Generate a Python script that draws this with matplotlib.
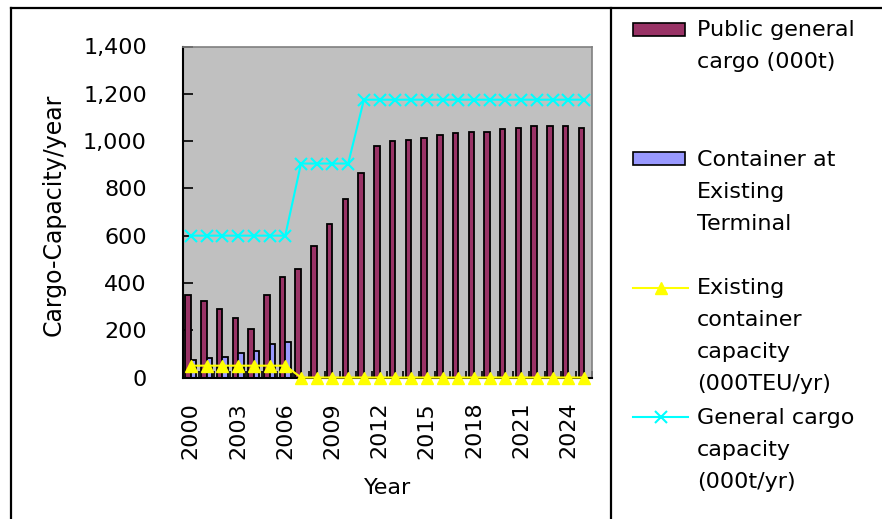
import numpy as np
import matplotlib
matplotlib.use("Agg")
import matplotlib.pyplot as plt
from matplotlib.patches import Rectangle
from matplotlib.lines import Line2D

# ---- DATA ---- #
years = list(range(2000, 2026))
general_cargo = [350, 325, 290, 250, 205, 350, 425, 460, 555, 650, 755, 865, 980,
                 1000, 1005, 1015, 1025, 1035, 1040, 1040, 1050, 1055, 1065, 1065, 1065, 1055]
container = [75, 82, 88, 105, 114, 140, 149, 0, 0, 0, 0, 0, 0,
             0, 0, 0, 0, 0, 0, 0, 0, 0, 0, 0, 0, 0]
existing_cap = [50, 50, 50, 50, 50, 50, 50, 0, 0, 0, 0, 0, 0,
                0, 0, 0, 0, 0, 0, 0, 0, 0, 0, 0, 0, 0]
gc_capacity = [600, 600, 600, 600, 600, 600, 600, 905, 905, 905, 905, 1175, 1175,
               1175, 1175, 1175, 1175, 1175, 1175, 1175, 1175, 1175, 1175, 1175, 1175, 1175]
y_ticks = [0, 200, 400, 600, 800, 1000, 1200, 1400]
legend_labels = ["Public general\ncargo (000t)",
                 "Container at\nExisting\nTerminal",
                 "Existing\ncontainer\ncapacity\n(000TEU/yr)",
                 "General cargo\ncapacity\n(000t/yr)"]

PURPLE = "#993366"
BLUE = "#9999ff"
YELLOW = "#ffff00"
CYAN = "#00ffff"
FS = 16

plt.rcParams["font.family"] = "DejaVu Sans"

# ---- FIGURE ---- #
W, H = 882, 519
fig = plt.figure(figsize=(W / 100, H / 100), dpi=100)

# overlay in pixel coords for the frame and the legend panel
ov = fig.add_axes([0, 0, 1, 1])
ov.set_xlim(0, W)
ov.set_ylim(H, 0)
ov.axis("off")
ov.add_line(Line2D([11, 11], [8, H], color="black", lw=1.6))
ov.add_line(Line2D([11, W], [8, 8], color="black", lw=1.6))
ov.add_line(Line2D([611, 611], [8, H], color="black", lw=1.6))

# ---- MAIN PLOT ---- #
ax = fig.add_axes([183 / W, 1 - 377.5 / H, 409 / W, 331 / H])
ax.set_facecolor("#c0c0c0")
x = np.arange(len(years))
bw = 0.35
ax.bar(x - bw / 2, general_cargo, bw, color=PURPLE, edgecolor="black", linewidth=1.3, zorder=2)
ax.bar(x + bw / 2, container, bw, color=BLUE, edgecolor="black", linewidth=1.3, zorder=2)
ax.plot(x, existing_cap, color=YELLOW, marker="^", markersize=9, lw=1.5, zorder=4, clip_on=False)
ax.plot(x, gc_capacity, color=CYAN, marker="x", markersize=9, mew=1.5, lw=1.5, zorder=4)

ax.set_xlim(-0.5, len(years) - 0.5)
ax.set_ylim(0, 1400)
ax.set_yticks(y_ticks)
ax.set_yticklabels([f"{v:,}" for v in y_ticks], fontsize=FS)
ax.tick_params(axis="y", direction="in", length=7.5, width=1.2, pad=26)

ax.set_xticks(x[::3])
ax.set_xticklabels([str(y) for y in years[::3]], rotation=90, fontsize=FS)
ax.set_xticks(np.arange(len(years) + 1) - 0.5, minor=True)
ax.tick_params(axis="x", which="major", length=0, pad=17.5)
ax.tick_params(axis="x", which="minor", direction="in", length=5, width=1.2)

for side in ["top", "right"]:
    ax.spines[side].set_color("#808080")
    ax.spines[side].set_linewidth(1.2)
for side in ["left", "bottom"]:
    ax.spines[side].set_linewidth(1.5)

ax.set_ylabel("Cargo-Capacity/year", fontsize=17)
ax.yaxis.set_label_coords(-0.288, 0.49)
ax.set_xlabel("Year", fontsize=FS, labelpad=14)

# ---- LEGEND ---- #
baselines = [37.5, 166.5, 295.5, 424.5]
for i, (lab, yb) in enumerate(zip(legend_labels, baselines)):
    yc = yb - 8
    if i == 0:
        ov.add_patch(Rectangle((633, yc - 6.5), 52, 13, facecolor=PURPLE, edgecolor="black", lw=1.2))
    elif i == 1:
        ov.add_patch(Rectangle((633, yc - 6.5), 52, 13, facecolor=BLUE, edgecolor="black", lw=1.2))
    elif i == 2:
        ov.add_line(Line2D([633, 688], [yc, yc], color=YELLOW, lw=1.5))
        ov.add_line(Line2D([660.5], [yc], color=YELLOW, marker="^", markersize=9))
    else:
        ov.add_line(Line2D([633, 688], [yc, yc], color=CYAN, lw=1.5))
        ov.add_line(Line2D([660.5], [yc], color=CYAN, marker="x", markersize=9, mew=1.5))
    ov.text(697, yb - 17, lab, fontsize=FS, va="top", ha="left", linespacing=1.75)

fig.savefig("out.png", dpi=100)
